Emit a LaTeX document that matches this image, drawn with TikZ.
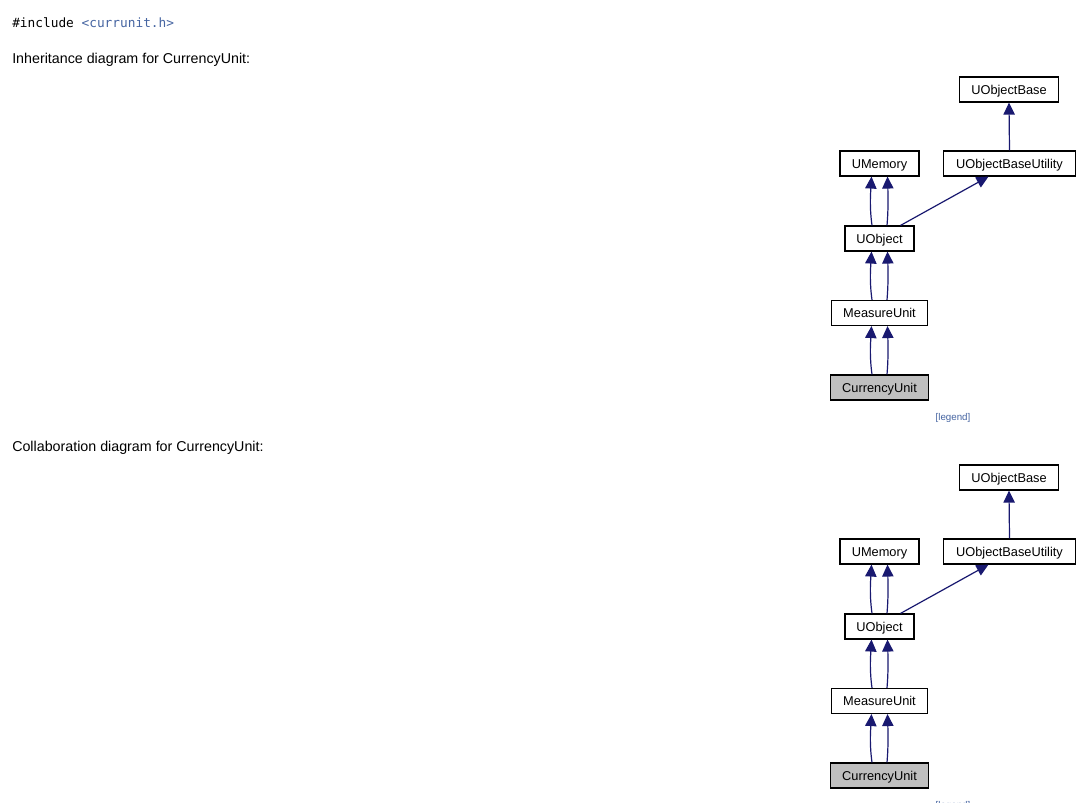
\documentclass[tikz,border=0pt]{standalone}
\usepackage{fontspec}
\setmainfont{Liberation Sans}
\newfontfamily\codefont{DejaVu Sans Mono}
\usetikzlibrary{arrows.meta,calc}
\definecolor{edgeblue}{HTML}{191970}
\definecolor{linkblue}{HTML}{4665A2}
\definecolor{grayfill}{HTML}{BFBFBF}
\tikzset{
  cls/.style={draw=black, line width=0.85pt, fill=white, minimum height=18.75pt, inner sep=0pt,
    text height=7pt, text depth=0pt, font=\fontsize{9.6}{11}\selectfont},
  hdr/.style={anchor=west, inner sep=0pt, font=\fontsize{10.7}{13}\selectfont, text=black},
  inh/.style={draw=edgeblue, line width=0.9pt, -{Triangle[length=9pt,width=8.5pt]}},
  leg/.style={inner sep=0pt, font=\fontsize{7.3}{9}\selectfont, text=linkblue}
}
\newcommand\classdiagram[2]{%
  \begin{scope}[yshift=#2]
  \node[cls, minimum width=74.25pt] (#1ob) at (1009,89.5) {UObjectBase};
  \node[cls, minimum width=59.25pt] (#1um) at (879.5,163.5) {UMemory};
  \node[cls, minimum width=99pt] (#1obu) at (1009.5,163.5) {UObjectBaseUtility};
  \node[cls, minimum width=51.75pt] (#1uo) at (879.5,238.5) {UObject};
  \node[cls, minimum width=72pt] (#1mu) at (879.5,313) {MeasureUnit};
  \node[cls, fill=grayfill, minimum width=73pt] (#1cu) at (879.5,387.5) {CurrencyUnit};
  \node[leg] (#1leg) at (953,418) {[legend]};
  \draw[inh] (#1obu.north) -- (#1ob.south);
  \draw[inh] ($(#1uo.north)+(21,0)$) -- ($(#1obu.south)+(-21,0)$);
  \draw[inh] ($(#1uo.north)+(-7.5,0)$) .. controls +(-2.5,-18) and +(-1,18) .. ($(#1um.south)+(-8,0)$);
  \draw[inh] ($(#1uo.north)+(7.5,0)$) .. controls +(1.5,-18) and +(0.5,18) .. ($(#1um.south)+(8,0)$);
  \draw[inh] ($(#1mu.north)+(-7.5,0)$) .. controls +(-2.5,-18) and +(-1,18) .. ($(#1uo.south)+(-8,0)$);
  \draw[inh] ($(#1mu.north)+(7.5,0)$) .. controls +(1.5,-18) and +(0.5,18) .. ($(#1uo.south)+(8,0)$);
  \draw[inh] ($(#1cu.north)+(-7.5,0)$) .. controls +(-2.5,-18) and +(-1,18) .. ($(#1mu.south)+(-8,0)$);
  \draw[inh] ($(#1cu.north)+(7.5,0)$) .. controls +(1.5,-18) and +(0.5,18) .. ($(#1mu.south)+(8,0)$);
  \end{scope}}
\begin{document}
\begin{tikzpicture}[x=0.75pt, y=-0.75pt]
\useasboundingbox[fill=white] (0,0) rectangle (1082,803);
\node[hdr, font=\codefont\fontsize{9.6}{12}\selectfont] (inc) at (12,23) {\#include \textcolor{linkblue}{<currunit.h>}};
\node[hdr] (h1) at (12,60) {Inheritance diagram for CurrencyUnit:};
\node[hdr] (h2) at (12,448) {Collaboration diagram for CurrencyUnit:};
\classdiagram{a}{0pt}
\classdiagram{b}{-291pt}
\end{tikzpicture}
\end{document}
